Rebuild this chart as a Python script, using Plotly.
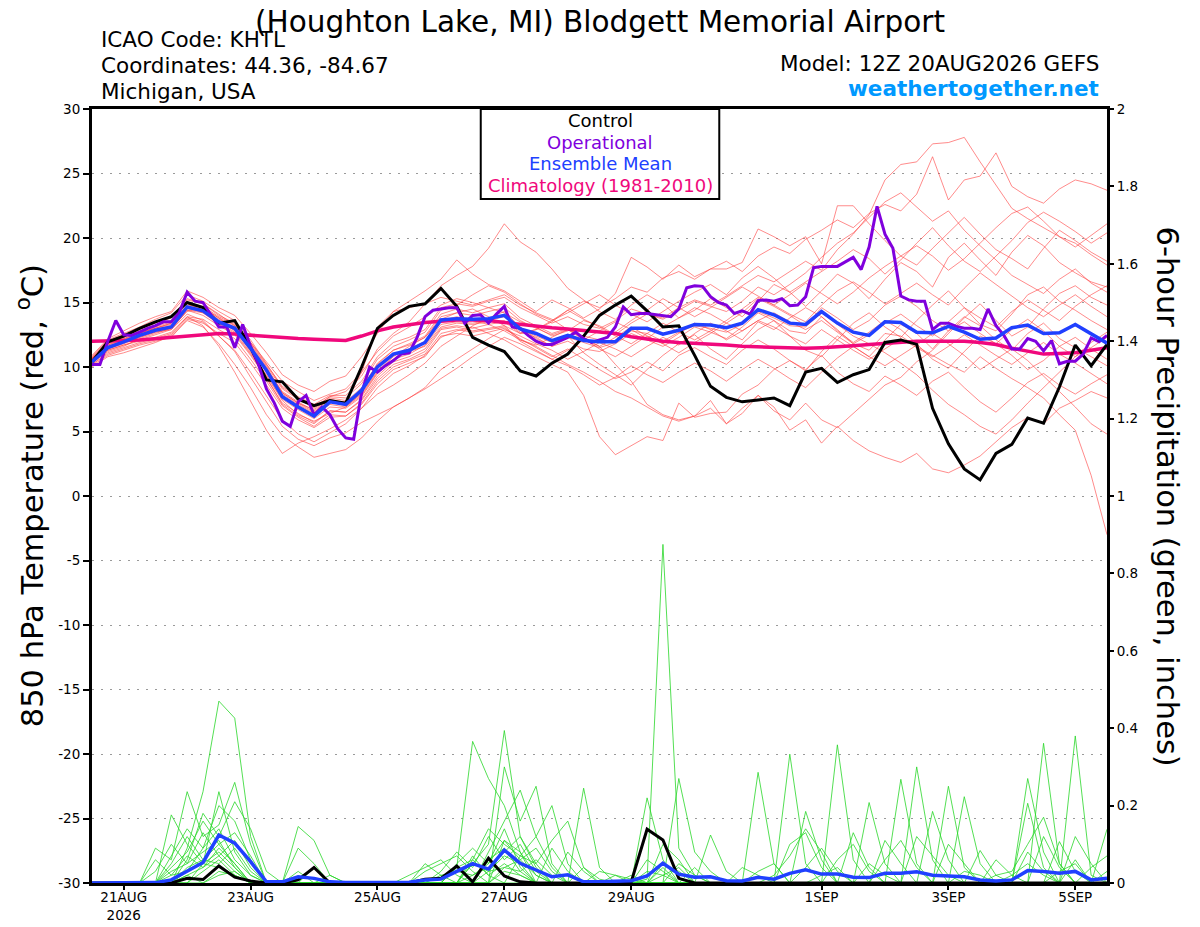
import pandas as pd
import plotly.graph_objects as go

# ---------------- time axes ----------------
t6 = pd.date_range("2026-08-20 12:00", periods=65, freq="6h")
t3 = pd.date_range("2026-08-20 12:00", periods=129, freq="3h")

tick_dates = ["2026-08-21", "2026-08-23", "2026-08-25", "2026-08-27",
              "2026-08-29", "2026-09-01", "2026-09-03", "2026-09-05"]
tick_labels = ["21AUG<br>2026", "23AUG", "25AUG", "27AUG", "29AUG", "1SEP", "3SEP", "5SEP"]

temp_ticks = [-30, -25, -20, -15, -10, -5, 0, 5, 10, 15, 20, 25, 30]
temp_tick_labels = ["-30", "-25", "-20", "-15", "-10", "-5", "0", "5", "10", "15", "20", "25", "30"]
prcp_ticks = [0, 0.2, 0.4, 0.6, 0.8, 1.0, 1.2, 1.4, 1.6, 1.8, 2.0]
prcp_tick_labels = ["0", "0.2", "0.4", "0.6", "0.8", "1", "1.2", "1.4", "1.6", "1.8", "2"]

# ---------------- 850 hPa temperature ----------------
control_t = [10.4, 11.95, 12.4, 13.0, 13.5, 13.9, 15.0, 14.6, 13.4, 13.6, 11.5, 9.0, 8.85,
             7.5, 7.0, 7.4, 7.2, 10.0, 13.0, 14.0, 14.7, 14.9, 16.1, 14.7, 12.3, 11.7,
             11.2, 9.7, 9.3, 10.3, 11.0, 12.4, 14.0, 14.8, 15.5, 14.35, 13.1, 13.2, 10.9,
             8.5, 7.65, 7.3, 7.45, 7.6, 7.0, 9.6, 9.9, 8.8, 9.4, 9.8, 11.9, 12.1,
             11.75, 6.8, 4.05, 2.1, 1.25, 3.3, 4.0, 6.05, 5.65, 8.45, 11.7, 10.1, 11.75]

operational_t = [10.2, 10.2, 12.0, 13.6, 12.5, 12.45, 12.7, 13.0, 13.2, 13.5, 13.5, 14.2, 15.8,
                 15.1, 15.0, 14.0, 13.1, 13.1, 11.5, 13.3, 11.6, 10.2, 8.3, 7.2, 5.8, 5.4,
                 7.3, 7.8, 6.3, 6.9, 6.3, 5.2, 4.5, 4.4, 8.0, 10.0, 9.6, 10.1, 10.5,
                 11.0, 11.1, 12.3, 13.9, 14.4, 14.5, 14.6, 14.6, 13.4, 14.0, 14.05, 13.4, 14.1,
                 14.7, 13.1, 13.0, 12.45, 12.0, 11.75, 11.75, 12.0, 12.3, 12.7, 12.2, 11.9, 12.1,
                 12.3, 13.1, 14.65, 14.05, 14.15, 14.15, 14.05, 13.95, 13.9, 14.5, 16.15, 16.3, 16.25,
                 15.45, 15.0, 14.8, 14.15, 14.35, 14.1, 15.15, 15.2, 15.1, 15.3, 14.75, 14.8, 15.45,
                 17.7, 17.8, 17.8, 17.8, 18.15, 18.5, 17.55, 19.3, 22.45, 20.3, 19.2, 15.5, 15.2,
                 15.1, 15.1, 12.9, 13.4, 13.4, 13.15, 13.0, 13.0, 12.9, 14.5, 13.2, 12.45, 11.4,
                 11.4, 12.2, 12.0, 11.25, 12.05, 10.25, 10.45, 10.45, 11.0, 12.25, 11.95, 12.45]

mean_t = [10.4, 11.5, 11.95, 12.45, 12.85, 13.1, 14.65, 14.35, 13.5, 13.0, 11.45, 9.75, 7.7,
          6.9, 6.2, 7.3, 7.1, 8.2, 10.0, 11.0, 11.3, 11.9, 13.65, 13.75, 13.7, 13.75,
          14.0, 12.95, 12.6, 12.05, 12.45, 12.05, 11.95, 11.95, 13.0, 13.0, 12.55, 12.85, 13.3,
          13.25, 13.05, 13.4, 14.45, 14.05, 13.4, 13.3, 14.3, 13.4, 12.7, 12.45, 13.5, 13.45,
          12.7, 12.65, 13.15, 12.7, 12.15, 12.25, 13.05, 13.25, 12.6, 12.65, 13.3, 12.6, 11.85]

climatology_t = [12.0, 12.0, 12.05, 12.1, 12.2, 12.3, 12.4, 12.5, 12.6, 12.55, 12.45, 12.35, 12.25,
                 12.2, 12.15, 12.1, 12.05, 12.4, 12.8, 13.1, 13.3, 13.45, 13.55, 13.65, 13.65, 13.6,
                 13.45, 13.3, 13.15, 13.05, 12.95, 12.85, 12.7, 12.6, 12.35, 12.15, 12.0, 11.9, 11.85,
                 11.75, 11.7, 11.6, 11.55, 11.5, 11.5, 11.45, 11.5, 11.55, 11.65, 11.75, 11.85, 11.95,
                 12.0, 12.0, 12.0, 12.0, 11.9, 11.75, 11.45, 11.2, 11.0, 11.05, 11.1, 11.3, 11.5]

m01 = [10.6, 11.8, 12.3, 12.9, 13.4, 13.8, 15.2, 14.9, 14.1, 13.2, 11.9, 10.4, 8.9,
       8.1, 7.4, 7.9, 8.3, 9.6, 11.2, 12.4, 13.1, 13.9, 14.8, 15.3, 15.0, 14.6,
       14.2, 13.5, 13.1, 12.4, 12.8, 13.6, 13.2, 12.5, 13.4, 14.1, 13.8, 14.6, 15.2,
       14.8, 15.5, 16.3, 17.1, 16.6, 17.4, 18.2, 17.5, 19.1, 20.3, 21.8, 24.5, 25.7,
       25.9, 27.3, 27.4, 27.8, 25.9, 24.1, 22.3, 21.5, 20.8, 20.1, 19.6, 18.7, 17.9]
m02 = [10.3, 11.2, 11.6, 12.2, 12.6, 13.0, 14.3, 14.6, 13.8, 12.9, 11.2, 9.3, 7.4,
       6.3, 5.8, 6.4, 6.9, 7.8, 9.6, 10.8, 11.6, 12.3, 13.7, 14.2, 14.5, 13.9,
       13.2, 12.6, 12.9, 13.5, 14.4, 15.1, 14.6, 15.3, 16.2, 15.8, 16.9, 17.4, 16.8,
       17.6, 18.2, 17.4, 18.6, 19.3, 18.8, 19.9, 20.6, 21.4, 20.8, 21.9, 22.6, 22.1,
       23.4, 26.3, 22.95, 24.5, 24.8, 26.6, 24.0, 23.2, 22.7, 23.8, 24.5, 24.2, 23.7]
m03 = [10.8, 12.1, 12.6, 13.1, 13.7, 14.2, 15.6, 15.1, 14.3, 13.6, 12.1, 10.2, 8.4,
       7.6, 6.8, 7.7, 8.1, 9.3, 11.4, 12.6, 13.5, 14.9, 16.3, 17.1, 17.8, 19.2,
       21.1, 19.7, 18.9, 17.6, 16.1, 15.2, 14.3, 13.7, 14.8, 15.6, 14.9, 13.8, 14.4,
       15.3, 14.6, 13.9, 15.1, 16.4, 15.8, 14.7, 15.9, 17.2, 16.5, 15.3, 16.8, 18.1,
       17.4, 16.2, 18.5, 19.6, 18.3, 17.1, 18.9, 20.2, 19.4, 18.1, 17.3, 16.6, 16.2]
m04 = [10.2, 11.0, 11.4, 11.8, 12.1, 12.5, 13.8, 13.5, 12.4, 11.3, 9.6, 7.8, 5.9,
       4.8, 4.2, 4.9, 5.6, 6.8, 8.4, 9.5, 10.1, 10.9, 12.3, 12.8, 13.1, 12.6,
       12.1, 11.4, 10.8, 10.2, 9.6, 7.8, 4.6, 3.2, 3.9, 4.6, 4.3, 7.2, 6.1,
       6.4, 6.5, 7.9, 8.6, 9.8, 10.5, 9.7, 11.2, 12.4, 11.6, 10.8, 12.1, 13.3,
       12.6, 11.4, 12.8, 13.9, 13.2, 12.1, 11.3, 12.6, 13.4, 12.2, 11.5, 10.8, 10.1]
m05 = [10.0, 10.8, 11.1, 11.5, 11.9, 12.4, 13.6, 13.1, 11.8, 10.2, 8.4, 6.3, 4.7,
       3.8, 3.0, 3.3, 3.6, 4.5, 5.8, 6.9, 7.6, 8.4, 9.8, 10.6, 11.4, 12.2,
       12.9, 12.4, 11.8, 11.3, 10.6, 11.2, 11.9, 11.4, 10.8, 11.6, 12.3, 11.7, 12.6,
       13.4, 12.8, 12.1, 13.5, 12.9, 13.8, 14.6, 13.9, 12.8, 11.9, 12.7, 13.6, 12.9,
       11.8, 10.6, 9.9, 11.2, 12.4, 11.8, 10.9, 9.8, 10.5, 11.6, 12.3, 11.4, 10.6]
m06 = [10.4, 11.3, 11.7, 12.0, 12.3, 12.7, 13.9, 13.2, 11.6, 9.6, 7.4, 5.1, 3.3,
       4.1, 4.6, 5.2, 5.9, 6.8, 7.9, 8.6, 9.4, 10.3, 11.6, 12.4, 13.2, 13.8,
       14.3, 13.1, 12.2, 11.6, 12.4, 11.1, 10.2, 9.4, 8.6, 9.8, 10.9, 11.8, 12.5,
       11.4, 10.6, 11.8, 12.9, 13.6, 12.4, 11.3, 10.8, 12.1, 13.4, 14.2, 13.1, 12.3,
       13.6, 14.8, 15.9, 14.6, 13.3, 12.8, 14.1, 15.6, 16.2, 15.1, 14.4, 13.6, 12.9]
m07 = [10.5, 11.6, 12.1, 12.6, 13.1, 13.5, 14.9, 14.4, 13.6, 12.8, 11.3, 9.6, 7.9,
       7.1, 6.4, 7.3, 7.0, 7.9, 9.7, 10.9, 11.2, 11.6, 13.1, 13.4, 13.3, 13.5,
       13.6, 12.7, 12.3, 11.6, 12.0, 11.4, 11.2, 11.8, 12.6, 12.1, 11.6, 12.3, 13.1,
       12.7, 12.2, 13.1, 14.2, 13.6, 12.8, 12.6, 13.9, 12.9, 11.8, 11.3, 12.6, 12.4,
       11.6, 10.9, 10.2, 9.6, 10.8, 9.9, 9.1, 8.4, 7.6, 6.3, 5.1, 1.6, -3.0]
m08 = [10.3, 11.4, 11.8, 12.3, 12.7, 12.9, 14.4, 14.2, 13.3, 12.6, 11.0, 9.2, 7.1,
       6.2, 5.6, 6.6, 6.5, 7.4, 9.1, 10.2, 10.6, 11.2, 12.9, 13.1, 12.8, 13.0,
       13.2, 12.1, 11.6, 10.9, 10.2, 9.6, 8.9, 8.1, 7.6, 6.9, 6.2, 5.8, 6.2,
       6.8, 5.6, 6.4, 7.8, 6.9, 5.1, 5.9, 4.1, 5.4, 4.3, 3.5, 3.0, 2.6,
       3.3, 2.1, 1.8, 2.4, 3.1, 4.2, 5.3, 6.1, 5.6, 6.8, 7.4, 8.1, 7.6]
m09 = [10.9, 12.2, 12.8, 13.4, 13.9, 14.3, 15.9, 15.4, 14.6, 14.0, 12.6, 11.1, 9.4,
       8.6, 8.1, 8.9, 9.3, 10.8, 12.6, 14.3, 15.1, 15.9, 16.8, 18.3, 17.2, 16.4,
       15.9, 15.1, 14.3, 15.2, 14.6, 13.8, 14.5, 15.7, 18.5, 17.75, 16.8, 17.9, 17.0,
       17.6, 17.6, 18.1, 20.7, 20.1, 19.4, 20.1, 18.0, 22.5, 22.5, 21.1, 19.8, 18.6,
       17.9, 19.2, 20.4, 21.6, 20.3, 19.1, 18.4, 17.6, 19.2, 20.6, 19.8, 18.9, 18.2]
m10 = [10.6, 11.7, 12.2, 12.7, 13.0, 13.3, 14.7, 14.5, 13.7, 13.1, 11.6, 9.9, 8.1,
       7.3, 6.6, 7.5, 7.2, 8.3, 10.3, 11.3, 11.8, 12.4, 14.1, 14.5, 14.2, 14.6,
       14.9, 13.8, 13.2, 12.6, 13.0, 12.3, 11.6, 10.2, 8.9, 7.1, 6.3, 5.9, 6.2,
       7.4, 5.6, 6.8, 7.8, 6.6, 5.9, 7.2, 5.9, 5.3, 6.4, 7.5, 8.6, 9.2,
       10.4, 11.3, 12.6, 13.8, 14.9, 13.6, 12.4, 13.1, 14.5, 15.7, 16.3, 15.4, 14.8]
m11 = [10.7, 11.9, 12.4, 12.8, 13.2, 13.6, 15.0, 14.7, 13.9, 13.3, 11.8, 10.1, 8.3,
       7.5, 6.9, 7.7, 7.6, 8.7, 10.6, 11.6, 12.1, 12.7, 14.4, 14.8, 15.6, 16.3,
       15.8, 14.9, 14.1, 13.6, 14.2, 14.9, 15.6, 14.8, 14.1, 13.5, 14.3, 15.1, 15.8,
       16.4, 15.6, 16.9, 17.8, 16.9, 15.8, 16.6, 17.4, 18.2, 19.1, 18.4, 17.2, 18.3,
       19.6, 20.8, 19.4, 18.2, 17.4, 18.6, 19.8, 21.2, 22.0, 21.3, 20.5, 19.6, 20.4]
m12 = [10.1, 10.9, 11.3, 11.7, 12.0, 12.3, 13.7, 13.4, 12.6, 11.9, 10.3, 8.6, 6.8,
       5.9, 5.3, 6.1, 6.2, 7.1, 8.7, 9.8, 10.3, 10.8, 12.4, 12.6, 12.4, 12.7,
       13.0, 12.2, 11.5, 10.8, 11.4, 10.6, 9.8, 9.1, 9.6, 10.4, 9.7, 10.9, 11.5,
       10.8, 10.2, 11.3, 12.1, 11.4, 10.5, 9.8, 10.9, 9.6, 8.7, 8.1, 9.3, 8.6,
       7.8, 8.9, 9.6, 8.4, 7.3, 6.5, 7.6, 8.8, 9.5, 8.6, 7.9, 8.7, 9.4]
m13 = [10.5, 11.5, 12.0, 12.5, 12.9, 13.2, 14.5, 14.3, 13.5, 12.9, 11.4, 9.7, 7.8,
       7.0, 6.3, 7.1, 6.9, 8.0, 9.9, 11.0, 11.4, 12.0, 13.6, 13.9, 13.6, 13.3,
       12.8, 12.1, 11.7, 12.3, 12.9, 12.1, 12.8, 13.5, 12.9, 12.2, 13.1, 13.8, 14.6,
       14.1, 13.4, 14.2, 15.3, 14.7, 14.0, 13.2, 14.6, 13.8, 12.9, 13.6, 14.8, 15.5,
       14.7, 13.6, 12.8, 13.5, 12.6, 11.8, 12.9, 13.7, 12.8, 11.6, 10.8, 11.9, 12.7]
m14 = [10.6, 11.6, 12.0, 12.4, 12.8, 13.1, 14.6, 14.2, 13.4, 12.7, 11.1, 9.4, 7.5,
       6.7, 6.0, 6.9, 6.8, 7.7, 9.5, 10.6, 11.0, 11.7, 13.3, 13.5, 13.4, 13.6,
       13.9, 12.9, 12.4, 11.9, 12.3, 11.9, 11.5, 11.9, 12.8, 12.6, 12.0, 12.7, 13.2,
       13.0, 12.7, 13.3, 14.3, 13.8, 13.2, 13.1, 14.2, 13.3, 12.4, 11.8, 11.1, 10.3,
       9.4, 8.2, 7.1, 6.3, 5.4, 4.8, 5.9, 7.2, 8.4, 9.6, 10.8, 11.5, 12.3]
m15 = [10.8, 12.0, 12.5, 13.0, 13.5, 13.9, 15.3, 14.9, 14.0, 13.4, 11.9, 10.2, 8.5,
       7.7, 7.1, 7.8, 7.8, 8.9, 10.8, 11.9, 12.3, 12.9, 14.6, 14.9, 14.7, 15.1,
       15.4, 14.6, 14.0, 13.4, 13.9, 13.3, 13.0, 13.6, 14.5, 14.1, 13.7, 14.4, 15.1,
       14.7, 14.3, 15.1, 16.2, 15.6, 16.4, 17.3, 18.5, 19.6, 20.4, 21.6, 22.8, 23.5,
       22.4, 21.3, 22.1, 20.6, 19.4, 18.3, 17.1, 16.4, 15.7, 16.8, 17.6, 16.5, 15.8]
m16 = [10.2, 11.1, 11.5, 11.9, 12.2, 12.6, 13.9, 13.7, 12.9, 12.2, 10.6, 8.9, 7.0,
       6.1, 5.4, 6.3, 6.2, 7.2, 8.9, 10.0, 10.5, 11.0, 12.6, 12.9, 12.7, 12.9,
       13.1, 12.0, 11.3, 10.6, 10.1, 9.4, 8.6, 9.2, 10.1, 9.4, 8.8, 9.6, 10.3,
       9.7, 8.9, 9.8, 10.6, 9.9, 9.1, 8.4, 9.6, 10.7, 11.6, 10.8, 10.1, 10.9,
       11.7, 12.6, 11.8, 10.9, 9.8, 10.6, 11.4, 10.5, 9.3, 8.1, 6.9, 5.6, 4.8]
m17 = [10.4, 11.4, 11.9, 12.3, 12.7, 13.0, 14.4, 14.0, 13.2, 12.5, 10.9, 9.1, 7.2,
       6.4, 5.7, 6.6, 6.5, 7.5, 9.3, 10.4, 10.8, 11.4, 13.0, 13.2, 13.0, 13.3,
       13.5, 12.6, 12.9, 13.6, 14.4, 13.7, 13.1, 12.4, 11.8, 12.6, 13.4, 12.7, 12.1,
       12.8, 13.6, 14.5, 15.4, 14.8, 14.1, 13.5, 14.8, 15.9, 16.6, 15.8, 14.9, 15.7,
       16.5, 15.6, 14.8, 16.1, 17.3, 16.4, 15.5, 14.6, 13.9, 14.8, 15.6, 14.7, 13.9]
m18 = [10.7, 11.8, 12.2, 12.6, 13.0, 13.4, 14.8, 14.6, 13.8, 13.2, 11.7, 10.0, 8.0,
       7.2, 6.7, 7.6, 7.4, 9.6, 13.1, 14.3, 14.6, 14.9, 15.4, 15.1, 14.8, 15.2,
       15.6, 14.8, 14.2, 13.7, 12.9, 12.2, 11.4, 10.8, 11.6, 12.4, 11.8, 11.1, 11.9,
       12.6, 13.4, 12.8, 13.6, 14.2, 13.5, 12.9, 13.6, 12.7, 11.8, 12.5, 13.4, 14.1,
       13.2, 12.4, 13.5, 14.6, 13.8, 13.1, 14.3, 15.2, 14.4, 13.6, 14.7, 15.6, 16.3]
m19 = [10.3, 11.3, 11.7, 12.1, 12.5, 12.9, 14.1, 13.6, 12.4, 11.2, 9.2, 7.3, 5.4,
       4.4, 3.9, 4.5, 4.9, 5.7, 6.3, 6.9, 7.6, 8.3, 9.1, 9.9, 10.8, 11.6,
       12.3, 11.8, 11.2, 10.6, 11.3, 12.1, 11.6, 12.3, 13.1, 12.4, 11.8, 12.6, 13.4,
       12.9, 12.1, 12.8, 13.6, 13.1, 12.4, 11.8, 12.9, 12.1, 11.3, 10.6, 11.4, 12.2,
       11.5, 10.8, 11.6, 12.5, 11.7, 10.9, 10.2, 11.1, 11.9, 11.0, 10.3, 9.5, 8.7]
m20 = [10.6, 11.7, 12.1, 12.6, 13.0, 13.4, 14.7, 14.3, 13.5, 12.9, 11.4, 9.8, 8.0,
       7.2, 6.5, 7.4, 7.3, 8.4, 10.2, 11.3, 11.7, 12.3, 13.9, 14.2, 14.0, 14.3,
       14.6, 13.6, 13.0, 12.5, 12.9, 12.4, 12.1, 12.7, 13.6, 14.4, 15.3, 14.6, 13.9,
       14.6, 15.4, 16.2, 15.5, 14.8, 15.6, 16.5, 15.7, 14.9, 15.8, 16.9, 17.8, 18.6,
       19.4, 18.6, 17.5, 18.4, 19.6, 20.8, 21.9, 22.4, 21.3, 20.1, 19.3, 20.2, 21.1]

# ---------------- 6-hour precipitation (inches) ----------------
control_p = [0, 0, 0, 0, 0, 0, 0.012, 0.009, 0.044, 0.015, 0.005, 0, 0,
             0.008, 0.04, 0, 0, 0, 0, 0, 0, 0.01, 0.012, 0.044, 0.003, 0.064,
             0.018, 0.003, 0, 0, 0, 0, 0, 0, 0.003, 0.139, 0.111, 0.012, 0,
             0, 0, 0, 0, 0, 0, 0, 0, 0, 0, 0, 0, 0,
             0, 0, 0, 0, 0, 0, 0, 0, 0, 0, 0, 0, 0]
mean_p = [0, 0, 0, 0, 0.001, 0.008, 0.03, 0.053, 0.124, 0.103, 0.055, 0.003, 0.003,
          0.016, 0.012, 0.003, 0.001, 0.001, 0.001, 0.001, 0.002, 0.008, 0.01, 0.03, 0.05, 0.036,
          0.085, 0.051, 0.034, 0.016, 0.021, 0.003, 0.003, 0.004, 0.006, 0.018, 0.051, 0.023, 0.015,
          0.016, 0.006, 0.005, 0.015, 0.01, 0.025, 0.034, 0.023, 0.023, 0.015, 0.014, 0.025, 0.025,
          0.029, 0.02, 0.019, 0.016, 0.008, 0.005, 0.008, 0.032, 0.03, 0.025, 0.03, 0.008, 0.012]

p01 = [0, 0, 0, 0, 0, 0, .09, .236, .47, .426, .12, 0, 0,
       0, 0, 0, 0, 0, 0, 0, 0, 0, 0, 0, .05, .10,
       .394, .12, .04, 0, 0, 0, 0, 0, 0, .01, .875, .09, .02,
       0, 0, 0, 0, 0, 0, 0, 0, .357, .06, 0, 0, 0,
       0, 0, 0, 0, 0, 0, 0, 0, .12, .04, 0, 0, 0]
p02 = [0, 0, 0, 0, 0, .176, .10, .05, .236, .08, .02, 0, 0,
       .146, .11, .02, 0, 0, 0, 0, 0, 0, 0, .04, .366, .27,
       .20, .08, 0, 0, 0, 0, 0, 0, 0, 0, .05, .03, 0,
       0, 0, 0, .286, .05, 0, 0, 0, 0, 0, 0, 0, 0,
       0, 0, 0, 0, 0, 0, 0, .27, .08, 0, 0, 0, 0]
p03 = [0, 0, 0, 0, .09, .06, .236, .12, .15, .26, .10, 0, 0,
       0, 0, 0, 0, 0, 0, 0, 0, .05, .02, 0, 0, 0,
       .30, .16, .25, .05, 0, 0, 0, 0, 0, .22, .06, 0, 0,
       0, 0, 0, 0, 0, .333, .05, 0, 0, 0, 0, 0, 0,
       0, 0, 0, 0, 0, 0, 0, 0, 0, 0, .38, .02, 0]
p04 = [0, 0, 0, 0, 0, .07, .14, .09, .20, .16, .06, 0, 0,
       0, .04, 0, 0, 0, 0, 0, 0, 0, 0, 0, 0, .08,
       .16, .24, .12, .20, .05, 0, 0, 0, .02, 0, 0, .27, .08,
       .03, 0, 0, 0, 0, 0, 0, 0, 0, 0, 0, 0, .268,
       .05, 0, 0, 0, 0, 0, 0, 0, 0, 0, 0, 0, .139]
p05 = [0, 0, 0, 0, 0, 0, .06, .18, .12, .21, .14, .03, 0,
       .09, .05, 0, 0, 0, 0, 0, 0, 0, 0, 0, .06, .14,
       .10, .07, .05, .11, .16, .04, 0, 0, 0, 0, 0, 0, 0,
       .124, .03, 0, 0, 0, 0, 0, 0, 0, 0, 0, 0, 0,
       .30, .06, 0, 0, 0, 0, 0, .206, .04, 0, 0, 0, 0]
p06 = [0, 0, 0, 0, 0, .04, .08, .16, .10, .05, 0, 0, 0,
       0, 0, 0, 0, 0, 0, 0, 0, 0, .03, .08, .04, .12,
       .06, .10, .03, 0, 0, .245, .04, 0, 0, 0, .04, 0, 0,
       0, 0, 0, 0, 0, 0, .185, .06, 0, 0, 0, 0, 0,
       0, 0, .25, .04, 0, 0, 0, 0, 0, 0, 0, 0, 0]
p07 = [0, 0, 0, 0, .03, .10, .05, .13, .07, .11, .04, 0, 0,
       0, 0, 0, 0, 0, 0, 0, .02, .04, .06, .02, 0, 0,
       .11, .06, .09, .03, 0, 0, 0, 0, 0, .06, .03, 0, 0,
       0, 0, 0, 0, 0, 0, 0, 0, 0, 0, .208, .05, 0,
       0, 0, 0, 0, 0, 0, 0, 0, 0, 0, .12, .05, 0]
p08 = [0, 0, 0, 0, 0, 0, .03, .09, .14, .06, .02, 0, 0,
       0, 0, 0, 0, 0, 0, 0, 0, 0, 0, .05, .09, .05,
       .14, .04, 0, 0, .08, .03, 0, 0, 0, 0, 0, 0, 0,
       0, 0, 0, 0, 0, .10, .13, .04, 0, 0, 0, 0, 0,
       0, 0, 0, .223, .05, 0, 0, 0, .361, .05, 0, 0, 0]
p09 = [0, 0, 0, 0, 0, .05, .12, .06, .10, .13, .07, 0, 0,
       0, 0, 0, 0, 0, 0, 0, 0, 0, 0, 0, .02, .04,
       .08, .12, .05, 0, 0, 0, 0, 0, 0, 0, 0, .05, .02,
       0, 0, 0, 0, 0, 0, 0, 0, 0, .13, .04, 0, 0,
       0, 0, 0, 0, 0, .02, .03, .10, .17, .05, 0, 0, 0]
p10 = [0, 0, 0, 0, .06, .02, .07, .04, .09, .05, 0, 0, 0,
       0, 0, 0, 0, 0, 0, 0, 0, .03, .05, .07, .03, 0,
       0, .07, .12, .04, 0, 0, 0, .02, .01, 0, 0, 0, 0,
       0, 0, .04, .02, 0, 0, 0, 0, 0, 0, 0, .06, .11,
       .04, 0, 0, 0, .084, .02, 0, 0, 0, 0, 0, 0, 0]
p11 = [0, 0, 0, 0, 0, 0, 0, .05, .08, .04, 0, 0, 0,
       .03, 0, 0, 0, 0, 0, 0, 0, 0, 0, 0, 0, .06,
       .09, .03, 0, 0, 0, 0, 0, 0, 0, 0, .10, .06, 0,
       0, 0, 0, 0, .02, .07, .14, .08, 0, 0, 0, 0, 0,
       0, .185, .06, 0, 0, 0, 0, 0, 0, .107, .03, 0, 0]
p12 = [0, 0, 0, 0, 0, .03, .05, .08, .11, .04, 0, 0, 0,
       0, 0, 0, 0, 0, 0, 0, 0, 0, 0, 0, .05, .03,
       .07, .05, 0, .09, .03, 0, 0, 0, 0, 0, 0, 0, 0,
       0, 0, 0, 0, 0, 0, 0, 0, .06, .10, .03, 0, 0,
       0, 0, 0, 0, 0, 0, .02, .05, .02, 0, 0, 0, 0]
p13 = [0, 0, 0, 0, 0, 0, .04, .06, .05, .09, .03, 0, 0,
       0, 0, 0, 0, 0, 0, 0, 0, 0, .02, .03, .02, .05,
       .11, .08, .02, 0, 0, 0, .03, .02, 0, 0, 0, 0, 0,
       0, 0, 0, 0, 0, 0, 0, 0, 0, 0, 0, .11, .05,
       0, 0, 0, 0, 0, 0, 0, 0, 0, 0, .06, 0, 0]
p14 = [0, 0, 0, 0, 0, 0, .02, .04, .07, .03, 0, 0, 0,
       0, 0, 0, 0, 0, 0, 0, 0, 0, 0, 0, 0, 0,
       .04, .03, .06, .02, 0, 0, 0, 0, 0, .03, .02, 0, 0,
       0, 0, 0, 0, 0, 0, .04, .09, .03, 0, 0, 0, 0,
       0, 0, .10, .05, 0, 0, 0, 0, 0, 0, 0, .04, .07]
p15 = [0, 0, 0, 0, 0, .02, .03, .05, .04, .02, 0, 0, 0,
       0, 0, 0, 0, 0, 0, 0, 0, 0, 0, 0, .07, .02,
       .05, .02, 0, 0, 0, 0, 0, 0, 0, 0, 0, 0, .04,
       0, 0, 0, 0, 0, 0, 0, 0, 0, 0, 0, 0, 0,
       .12, .07, .02, 0, 0, 0, 0, .08, .03, 0, 0, 0, 0]
p16 = [0, 0, 0, 0, 0, 0, 0, .03, .06, .02, 0, 0, 0,
       0, 0, .02, 0, 0, 0, 0, 0, 0, 0, 0, 0, .03,
       .04, .06, .02, 0, 0, 0, 0, 0, 0, 0, .02, .04, 0,
       0, 0, 0, 0, 0, 0, 0, 0, 0, 0, .05, .02, 0,
       0, 0, 0, 0, 0, .06, .02, 0, 0, 0, 0, 0, 0]
p17 = [0, 0, 0, 0, 0, 0, .02, 0, .03, .02, 0, 0, 0,
       0, 0, 0, 0, 0, 0, 0, 0, 0, 0, .04, .06, .02,
       0, 0, 0, 0, 0, .04, .01, 0, 0, 0, 0, 0, 0,
       0, 0, 0, .03, .05, 0, 0, 0, 0, 0, 0, 0, 0,
       0, 0, 0, .03, .02, 0, 0, 0, 0, 0, 0, 0, .03]
p18 = [0, 0, 0, 0, 0, 0, 0, 0, .02, .03, 0, 0, 0,
       0, 0, 0, 0, 0, 0, 0, 0, 0, 0, 0, 0, 0,
       .03, .02, 0, 0, 0, 0, 0, 0, 0, 0, 0, 0, 0,
       0, 0, 0, 0, 0, 0, 0, .02, .04, 0, 0, 0, 0,
       0, 0, 0, 0, 0, 0, 0, 0, 0, .03, .05, 0, 0]

temp_members = [m01, m02, m03, m04, m05, m06, m07, m08, m09, m10,
                m11, m12, m13, m14, m15, m16, m17, m18, m19, m20]
prcp_members = [p01, p02, p03, p04, p05, p06, p07, p08, p09,
                p10, p11, p12, p13, p14, p15, p16, p17, p18]

# ---------------- figure ----------------
FONT = "DejaVu Sans"
fig = go.Figure()

for m in temp_members:
    fig.add_trace(go.Scatter(x=t6, y=m, mode="lines", yaxis="y",
                             line=dict(color="rgba(255,60,60,0.75)", width=0.8),
                             hoverinfo="skip", showlegend=False))
for p in prcp_members:
    fig.add_trace(go.Scatter(x=t6, y=p, mode="lines", yaxis="y2",
                             line=dict(color="rgb(40,215,40)", width=0.8),
                             hoverinfo="skip", showlegend=False))

fig.add_trace(go.Scatter(x=t6, y=climatology_t, mode="lines", yaxis="y",
                         line=dict(color="#f0087c", width=3.5), showlegend=False))
fig.add_trace(go.Scatter(x=t6, y=control_t, mode="lines", yaxis="y",
                         line=dict(color="black", width=3), showlegend=False))
fig.add_trace(go.Scatter(x=t3, y=operational_t, mode="lines", yaxis="y",
                         line=dict(color="#8000dd", width=3), showlegend=False))
fig.add_trace(go.Scatter(x=t6, y=mean_t, mode="lines", yaxis="y",
                         line=dict(color="#2040ff", width=3.5), showlegend=False))
fig.add_trace(go.Scatter(x=t6, y=control_p, mode="lines", yaxis="y2",
                         line=dict(color="black", width=3), showlegend=False))
fig.add_trace(go.Scatter(x=t6, y=mean_p, mode="lines", yaxis="y2",
                         line=dict(color="#2040ff", width=3.5), showlegend=False))

fig.update_layout(
    width=1200, height=927,
    margin=dict(l=92, r=93, t=109, b=44, autoexpand=False),
    plot_bgcolor="white", paper_bgcolor="white",
    font=dict(family=FONT, color="black"),
    showlegend=False,
    xaxis=dict(type="date", range=[t6[0], t6[-1]],
               tickvals=tick_dates, ticktext=tick_labels,
               ticks="outside", ticklen=4, tickwidth=1.5, tickcolor="black",
               ticklabelstandoff=-4,
               showline=True, linewidth=3, linecolor="black", mirror=True,
               showgrid=False, zeroline=False,
               tickfont=dict(size=13.5, family=FONT)),
    yaxis=dict(range=[-30, 30], tickvals=temp_ticks, ticktext=temp_tick_labels,
               ticks="outside", ticklen=6, tickwidth=1.5, tickcolor="black",
               showline=True, linewidth=3, linecolor="black", mirror=True,
               showgrid=True, gridcolor="#9a9a9a", gridwidth=1, griddash="2px,7px",
               zeroline=False, tickfont=dict(size=13.5, family=FONT)),
    yaxis2=dict(range=[0, 2], overlaying="y", side="right",
                tickvals=prcp_ticks, ticktext=prcp_tick_labels,
                ticks="outside", ticklen=6, tickwidth=1.5, tickcolor="black",
                showline=False, showgrid=False, zeroline=False,
                tickfont=dict(size=13.5, family=FONT)),
)

# legend box
fig.add_shape(type="rect", xref="paper", yref="paper",
              x0=0.383, x1=0.618, y0=0.8837, y1=1.0,
              line=dict(color="black", width=2), fillcolor="white", layer="above")

legend_items = [("Control", "black", 0.9849),
                ("Operational", "#8000dd", 0.9564),
                ("Ensemble Mean", "#2040ff", 0.929),
                ("Climatology (1981-2010)", "#f0087c", 0.9009)]
for txt, col, yy in legend_items:
    fig.add_annotation(text=txt, xref="paper", yref="paper", x=0.5005, y=yy,
                       xanchor="center", yanchor="middle", showarrow=False,
                       font=dict(size=18, color=col, family=FONT))

# header texts
fig.add_annotation(text="(Houghton Lake, MI) Blodgett Memorial Airport",
                   xref="paper", yref="paper", x=0.5005, y=1.1124,
                   xanchor="center", yanchor="middle", showarrow=False, borderpad=0,
                   font=dict(size=29.5, family=FONT, color="black"))
for txt, yy in [("ICAO Code: KHTL", 1.0904), ("Coordinates: 44.36, -84.67", 1.0556),
                ("Michigan, USA", 1.022)]:
    fig.add_annotation(text=txt, xref="paper", yref="paper", x=0.0069, y=yy,
                       xanchor="left", yanchor="middle", showarrow=False,
                       font=dict(size=21.5, family=FONT, color="black"))
fig.add_annotation(text="Model: 12Z 20AUG2026 GEFS", xref="paper", yref="paper",
                   x=0.994, y=1.0594, xanchor="right", yanchor="middle", showarrow=False,
                   font=dict(size=21.5, family=FONT, color="black"))
fig.add_annotation(text="<b>weathertogether.net</b>", xref="paper", yref="paper",
                   x=0.994, y=1.0271, xanchor="right", yanchor="middle", showarrow=False,
                   font=dict(size=21.5, family=FONT, color="#0099ff"))

# axis titles
fig.add_annotation(text="850 hPa Temperature (red, <sup>o</sup>C)", xref="paper", yref="paper",
                   x=-0.0611, y=0.501, xanchor="center", yanchor="middle", textangle=-90,
                   showarrow=False, font=dict(size=30.5, family=FONT, color="black"))
fig.add_annotation(text="6-hour Precipitation (green, inches)", xref="paper", yref="paper",
                   x=1.060, y=0.4994, xanchor="center", yanchor="middle", textangle=90,
                   showarrow=False, font=dict(size=30.5, family=FONT, color="black"))

# remove the browser's default 8px body margin so the 1200x927 figure fills the window
fig.write_html("out.html", config={"displayModeBar": False},
               post_script="document.body.style.margin='0px';")
